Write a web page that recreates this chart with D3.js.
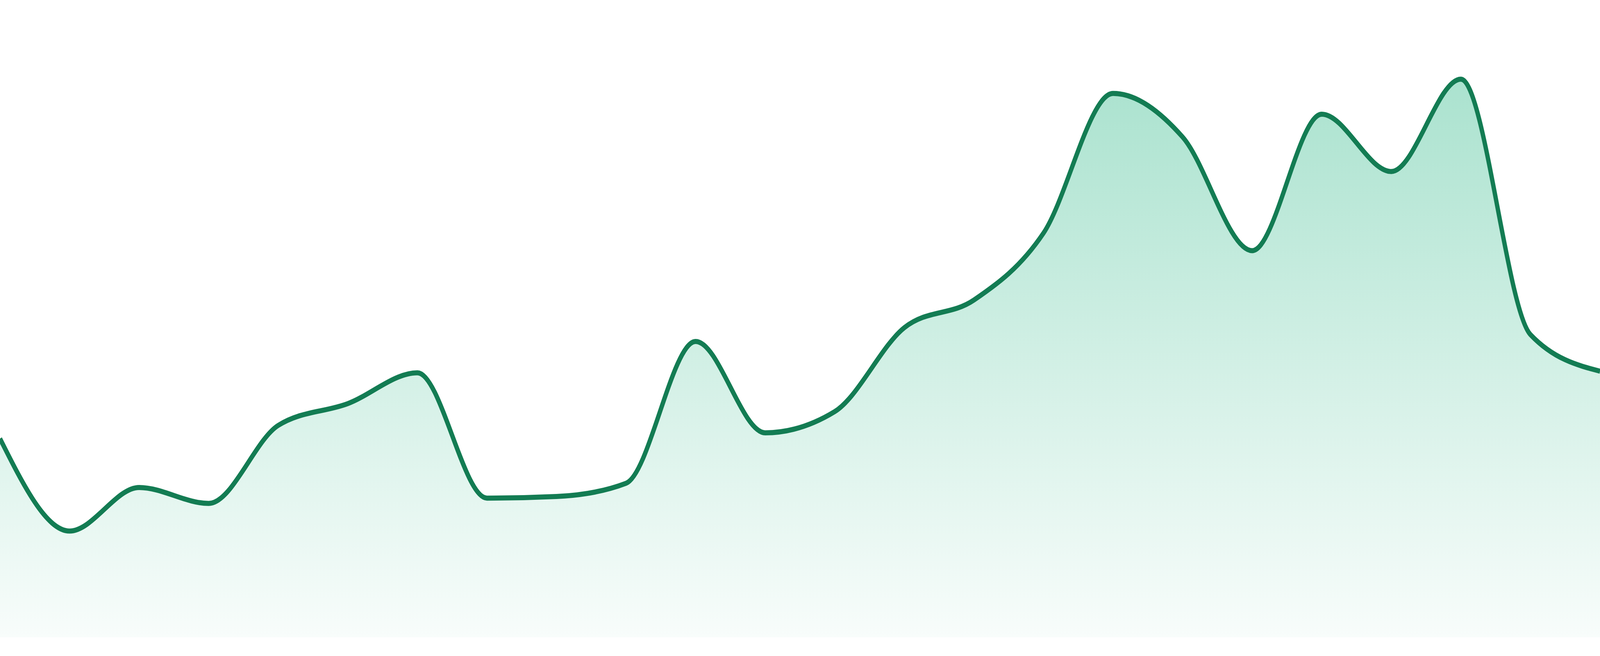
<!DOCTYPE html>
<html lang="en">
<head>
	<meta charset="UTF-8">
	<title>area-sparkline</title>
	<script src="https://d3js.org/d3.v7.min.js" charset="utf-8"></script>
	<style>
		html, body { margin: 0; padding: 0; background: #fff; overflow: hidden; }
		svg { display: block; width: 100vw; height: 100vh; }
	</style>
</head>
<body>
	<svg></svg>
	<script>
		// one point per period, 24 in all
		let categories = d3.range(1, 25).map(i => 'P' + i)
		let values = [
			37.4, 20.0, 28.2, 25.2, 39.9, 44.0, 49.8, 26.2,
			26.5, 29.0, 55.7, 38.5, 42.5, 58.3, 63.5, 76.1,
			102.4, 94.2, 72.8, 98.5, 87.7, 105.1, 57.0, 50.1
		]
		let yMax = 120

		let width = 4800
		let height = 1680
		let baseline = 1632

		// drawn in a 4800x1680 user space, stretched to whatever the window is
		let svg = d3.select('svg')
			.attr('viewBox', `0 0 ${width} ${height}`)
			.attr('preserveAspectRatio', 'none')

		let x = d3.scalePoint()
			.domain(categories)
			.range([0, width])

		let y = d3.scaleLinear()
			.domain([0, yMax])
			.range([baseline, 0])

		let data = categories.map((c, i) => ({ c: c, v: values[i] }))

		let grad = svg.append('defs')
			.append('linearGradient')
			.attr('id', 'fillGrad')
			.attr('gradientUnits', 'userSpaceOnUse')
			.attr('x1', 0).attr('x2', 0)
			.attr('y1', 0).attr('y2', baseline)
		grad.append('stop').attr('offset', 0).attr('stop-color', '#16b07a').attr('stop-opacity', 0.41)
		grad.append('stop').attr('offset', 1).attr('stop-color', '#16b07a').attr('stop-opacity', 0.03)

		let area = d3.area()
			.x(d => x(d.c))
			.y0(y(0))
			.y1(d => y(d.v))
			.curve(d3.curveMonotoneX)

		let line = d3.line()
			.x(d => x(d.c))
			.y(d => y(d.v))
			.curve(d3.curveMonotoneX)

		svg.append('path')
			.datum(data)
			.attr('d', area)
			.attr('fill', 'url(#fillGrad)')

		svg.append('path')
			.datum(data)
			.attr('d', line)
			.attr('fill', 'none')
			.attr('stroke', '#137c53')
			.attr('stroke-width', 13)
			.attr('stroke-linejoin', 'round')
	</script>
</body>
</html>
